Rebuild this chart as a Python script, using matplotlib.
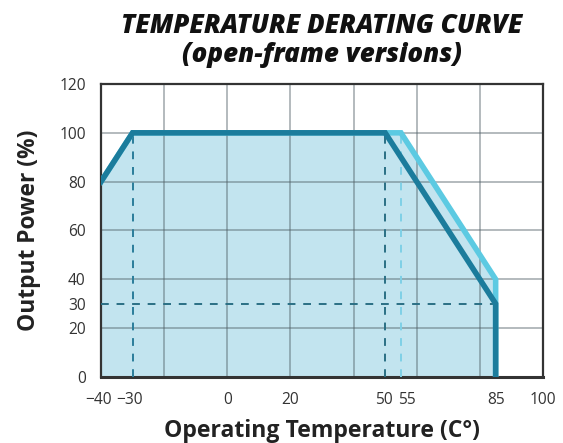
import matplotlib.pyplot as plt
from matplotlib.transforms import ScaledTranslation

# derating curves (temperature in C, output power in %)
dark_temp = [-40, -30, 50, 85, 85]
dark_power = [80, 100, 100, 30, 0]
light_temp = [-40, -30, 55, 85, 85]
light_power = [80, 100, 100, 40, 0]

x_ticks = [-40, -30, 0, 20, 50, 55, 85, 100]
y_ticks = [0, 20, 30, 40, 60, 80, 100, 120]
x_grid = [-40, -20, 0, 20, 40, 60, 80, 100]
y_grid = [0, 20, 40, 60, 80, 100, 120]

DARK = "#1b7c9c"
LIGHT = "#5ccae2"
FILL = "#c2e4ef"
FONT = ["Open Sans", "DejaVu Sans"]

plt.rcParams["font.family"] = FONT

fig = plt.figure(figsize=(5.63, 4.43), dpi=100)
ax = fig.add_axes([0.1794, 0.149, 0.7851, 0.6614])

ax.fill_between(light_temp, light_power, 0, color=FILL, lw=0, zorder=1)

for gx in x_grid[1:-1]:
    ax.axvline(gx, color="#4f5f66", alpha=0.5, lw=1.2, zorder=2)
for gy in y_grid[1:-1]:
    ax.axhline(gy, color="#4f5f66", alpha=0.5, lw=1.2, zorder=2)

dash = dict(lw=1.4, linestyle=(0, (4, 4)), zorder=3)
ax.plot([-30, -30], [0, 100], color="#2a7d9a", **dash)
ax.plot([50, 50], [0, 100], color="#2a6f85", **dash)
ax.plot([55, 55], [0, 100], color="#7fd0e6", **dash)
ax.plot([-40, 85], [30, 30], color="#2a6f85", **dash)

ax.plot(light_temp, light_power, color=LIGHT, lw=4.0, solid_joinstyle="miter", zorder=4)
ax.plot(dark_temp, dark_power, color=DARK, lw=4.0, solid_joinstyle="miter", zorder=5)

ax.set_xlim(-40, 100)
ax.set_ylim(0, 120)
ax.set_xticks(x_ticks)
ax.set_yticks(y_ticks)
ax.tick_params(length=0, labelsize=11.2, labelcolor="#333333")
ax.tick_params(axis="x", pad=10.5)
ax.tick_params(axis="y", pad=11)

# crowded labels are pushed apart a little, as in the original
nudge = {-40: -2, -30: -3, 50: -1, 55: 6}
for lab, val in zip(ax.get_xticklabels(), x_ticks):
    if val in nudge:
        lab.set_transform(lab.get_transform() + ScaledTranslation(nudge[val] / 100, 0, fig.dpi_scale_trans))

for s in ax.spines.values():
    s.set_color("#333333")
    s.set_linewidth(1.6)
ax.spines["bottom"].set_linewidth(2.2)

ax.set_xlabel("Operating Temperature (C°)", fontsize=16.6, fontweight="bold", color="#222222", labelpad=8)
ax.set_ylabel("Output Power (%)", fontsize=16.4, fontweight="bold", color="#222222", labelpad=13)
ax.set_title("TEMPERATURE DERATING CURVE\n(open-frame versions)", fontsize=18.6,
             fontweight="heavy", style="italic", color="#111111", pad=16, linespacing=1.12)

fig.savefig("out.png", dpi=100, facecolor="white")
